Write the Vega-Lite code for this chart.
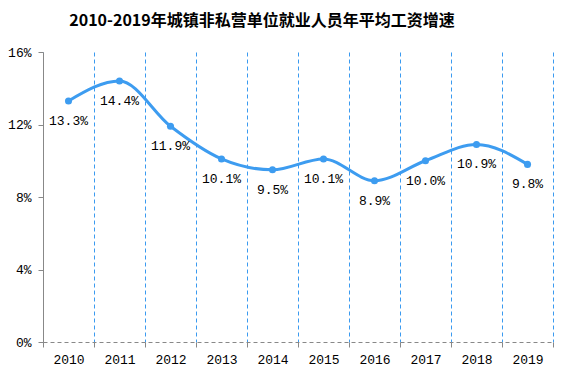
{
  "$schema": "https://vega.github.io/schema/vega-lite/v6.json",
  "width": 510,
  "height": 290,
  "autosize": "none",
  "padding": {"left": 43, "top": 52, "right": 17, "bottom": 39},
  "background": "white",
  "title": {
    "text": "2010-2019年城镇非私营单位就业人员年平均工资增速",
    "font": "Noto Sans CJK SC",
    "fontSize": 16,
    "fontWeight": "bold",
    "color": "#000000",
    "anchor": "middle",
    "dx": -36,
    "offset": 17
  },
  "data": {
    "values": [
      {"year": "2010", "rate": 0.133},
      {"year": "2011", "rate": 0.144},
      {"year": "2012", "rate": 0.119},
      {"year": "2013", "rate": 0.101},
      {"year": "2014", "rate": 0.095},
      {"year": "2015", "rate": 0.101},
      {"year": "2016", "rate": 0.089},
      {"year": "2017", "rate": 0.100},
      {"year": "2018", "rate": 0.109},
      {"year": "2019", "rate": 0.098}
    ]
  },
  "encoding": {
    "x": {
      "field": "year",
      "type": "nominal",
      "scale": {"paddingInner": 0, "paddingOuter": 0},
      "axis": {
        "title": null,
        "labelAngle": 0,
        "domainColor": "#888888",
        "domainDash": [4, 3],
        "tickColor": "#888888",
        "tickSize": 5,
        "tickBand": "extent",
        "grid": true,
        "gridColor": "#3a9af0",
        "gridDash": [4, 3],
        "gridWidth": 1,
        "labelPadding": 6
      }
    },
    "y": {
      "field": "rate",
      "type": "quantitative",
      "scale": {"domain": [0, 0.16], "nice": false},
      "axis": {
        "title": null,
        "values": [0, 0.04, 0.08, 0.12, 0.16],
        "format": ".0%",
        "grid": false,
        "domainColor": "#888888",
        "tickColor": "#888888",
        "tickSize": 5,
        "labelPadding": 7
      }
    }
  },
  "layer": [
    {
      "mark": {"type": "line", "interpolate": "monotone", "color": "#3d9cf0", "strokeWidth": 3}
    },
    {
      "mark": {"type": "point", "filled": true, "opacity": 1, "color": "#3d9cf0", "size": 50}
    },
    {
      "mark": {"type": "text", "dy": 20, "baseline": "middle", "font": "Liberation Mono", "fontSize": 13, "color": "#000000"},
      "encoding": {"text": {"field": "rate", "type": "quantitative", "format": ".1%"}}
    }
  ],
  "config": {
    "view": {"stroke": null},
    "axis": {
      "labelFont": "Liberation Mono",
      "labelFontSize": 13,
      "labelColor": "#000000"
    }
  }
}
